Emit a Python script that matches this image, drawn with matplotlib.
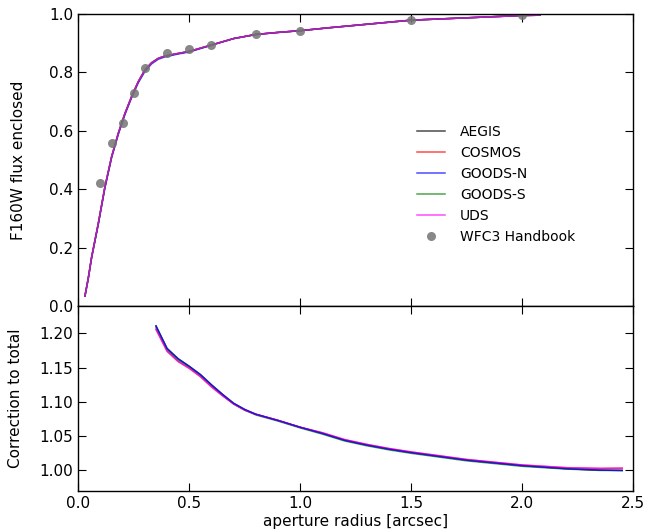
import numpy as np
import matplotlib
matplotlib.use('agg')
import matplotlib.pyplot as plt

# curve of growth (top panel)
r_grow = [0.03, 0.045, 0.06, 0.09, 0.12, 0.15, 0.18, 0.21, 0.24, 0.27, 0.30, 0.33, 0.36,
          0.39, 0.45, 0.50, 0.60, 0.70, 0.80, 0.90, 1.00, 1.13, 1.50, 2.00, 2.08]
flux_base = [0.034, 0.095, 0.167, 0.282, 0.408, 0.511, 0.591, 0.659, 0.717, 0.768, 0.808, 0.833, 0.848,
             0.856, 0.865, 0.872, 0.894, 0.916, 0.930, 0.937, 0.943, 0.953, 0.979, 0.995, 0.996]
flux_aegis = flux_base
flux_cosmos = flux_base
flux_goodsn = [0.034, 0.094, 0.165, 0.279, 0.404, 0.507, 0.587, 0.655, 0.713, 0.764, 0.803, 0.829, 0.845,
               0.853, 0.863, 0.870, 0.893, 0.916, 0.930, 0.937, 0.943, 0.953, 0.979, 0.995, 0.996]
flux_goodss = flux_base
flux_uds = flux_base

# WFC3 handbook encircled energy
r_hb = [0.10, 0.15, 0.20, 0.25, 0.30, 0.40, 0.50, 0.60, 0.80, 1.00, 1.50, 2.00]
ee_hb = [0.423, 0.557, 0.628, 0.731, 0.816, 0.866, 0.881, 0.893, 0.931, 0.943, 0.980, 0.997]

# correction to total (bottom panel)
r_corr = [0.35, 0.40, 0.45, 0.50, 0.55, 0.60, 0.65, 0.70, 0.75, 0.80, 0.90, 1.00,
          1.10, 1.20, 1.30, 1.40, 1.50, 1.75, 2.00, 2.20, 2.35, 2.45]
corr_aegis = [1.211, 1.178, 1.163, 1.152, 1.140, 1.125, 1.111, 1.098, 1.089, 1.082, 1.073, 1.063,
              1.054, 1.044, 1.037, 1.031, 1.026, 1.015, 1.007, 1.0025, 1.0005, 1.000]
corr_cosmos = [1.206, 1.174, 1.159, 1.149, 1.137, 1.122, 1.109, 1.097, 1.088, 1.082, 1.073, 1.063,
               1.055, 1.045, 1.038, 1.032, 1.027, 1.016, 1.008, 1.004, 1.003, 1.0035]
corr_goodsn = [1.211, 1.178, 1.163, 1.152, 1.140, 1.125, 1.111, 1.098, 1.089, 1.082, 1.073, 1.063,
               1.054, 1.044, 1.037, 1.031, 1.026, 1.015, 1.007, 1.0025, 1.0005, 1.000]
corr_goodss = [1.209, 1.176, 1.161, 1.151, 1.139, 1.124, 1.110, 1.097, 1.088, 1.081, 1.072, 1.062,
               1.053, 1.043, 1.036, 1.030, 1.025, 1.014, 1.006, 1.002, 1.000, 1.000]
corr_uds = [1.206, 1.174, 1.159, 1.149, 1.137, 1.122, 1.109, 1.097, 1.088, 1.082, 1.073, 1.063,
            1.055, 1.045, 1.038, 1.032, 1.027, 1.016, 1.008, 1.004, 1.003, 1.003]

fields = ['AEGIS', 'COSMOS', 'GOODS-N', 'GOODS-S', 'UDS']
colors = ['k', 'r', 'b', 'g', '#ff00ff']
flux_all = [flux_aegis, flux_cosmos, flux_goodsn, flux_goodss, flux_uds]
corr_all = [corr_aegis, corr_cosmos, corr_goodsn, corr_goodss, corr_uds]
bot_order = [0, 1, 3, 4, 2]

fig = plt.figure(figsize=(6.48, 5.31), dpi=100)
ax1 = fig.add_axes([0.1208, 0.4237, 0.8565, 0.5499])
ax2 = fig.add_axes([0.1208, 0.0753, 0.8565, 0.3484])

for i, name in enumerate(fields):
    ax1.plot(r_grow, flux_all[i], color=colors[i], alpha=0.7, lw=1.1, label=name)
ax1.plot(r_hb, ee_hb, 'o', color='0.45', alpha=0.85, ms=6.5, mec='none', label='WFC3 Handbook')

for i in bot_order:
    ax2.plot(r_corr, corr_all[i], color=colors[i], alpha=0.7, lw=1.1)

for ax in [ax1, ax2]:
    ax.set_xlim(0, 2.5)
    ax.tick_params(direction='in', top=True, right=True, length=6, width=0.8, labelsize=11)
    for s in ax.spines.values():
        s.set_linewidth(1.0)

ax1.set_ylim(0, 1.0)
ax1.set_yticks([0.0, 0.2, 0.4, 0.6, 0.8, 1.0])
ax1.set_yticklabels(['0.0', '0.2', '0.4', '0.6', '0.8', '1.0'])
ax1.set_xticks([0.0, 0.5, 1.0, 1.5, 2.0, 2.5])
ax1.tick_params(labelbottom=False)
ax1.set_ylabel('F160W flux enclosed', fontsize=11)
ax1.yaxis.set_label_coords(-0.095, 0.5)

ax2.set_ylim(0.97, 1.24)
ax2.set_yticks([1.00, 1.05, 1.10, 1.15, 1.20])
ax2.set_yticklabels(['1.00', '1.05', '1.10', '1.15', '1.20'])
ax2.set_xticks([0.0, 0.5, 1.0, 1.5, 2.0, 2.5])
ax2.set_xticklabels(['0.0', '0.5', '1.0', '1.5', '2.0', '2.5'])
ax2.set_ylabel('Correction to total', fontsize=11)
ax2.yaxis.set_label_coords(-0.099, 0.5)
ax2.set_xlabel('aperture radius [arcsec]', fontsize=11, labelpad=2)

ax1.legend(loc='center left', bbox_to_anchor=(0.588, 0.416), frameon=False, numpoints=1,
           fontsize=10, handletextpad=1.1)

plt.savefig('out.png', dpi=100)
plt.close(fig)
